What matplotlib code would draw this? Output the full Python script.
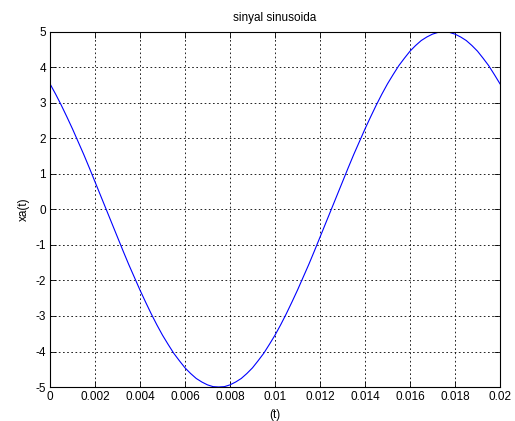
import numpy as np
import matplotlib.pyplot as plt

plt.rcParams['font.family'] = ['Liberation Sans', 'DejaVu Sans']
plt.rcParams['axes.unicode_minus'] = False

# samples, every 0.00025 s
t = np.linspace(0, 0.02, 81)
xa = [3.54, 3.25, 2.94, 2.61, 2.27, 1.91, 1.55, 1.17, 0.78, 0.39,
      0.0, -0.39, -0.78, -1.17, -1.55, -1.91, -2.27, -2.61, -2.94, -3.25,
      -3.54, -3.80, -4.05, -4.26, -4.46, -4.62, -4.76, -4.86, -4.94, -4.99,
      -5.0, -4.99, -4.94, -4.86, -4.76, -4.62, -4.46, -4.26, -4.05, -3.80,
      -3.54, -3.25, -2.94, -2.61, -2.27, -1.91, -1.55, -1.17, -0.78, -0.39,
      0.0, 0.39, 0.78, 1.17, 1.55, 1.91, 2.27, 2.61, 2.94, 3.25,
      3.54, 3.80, 4.05, 4.26, 4.46, 4.62, 4.76, 4.86, 4.94, 4.99,
      5.0, 4.99, 4.94, 4.86, 4.76, 4.62, 4.46, 4.26, 4.05, 3.80, 3.54]

xticks = [0, 0.002, 0.004, 0.006, 0.008, 0.01, 0.012, 0.014, 0.016, 0.018, 0.02]
xticklabels = ['0', '0.002', '0.004', '0.006', '0.008', '0.01', '0.012',
               '0.014', '0.016', '0.018', '0.02']
yticks = list(range(-5, 6))

fig = plt.figure(figsize=(5.15, 4.21), dpi=100)
ax = fig.add_axes([50/515, 1 - 387/421, 450/515, 355/421])

ax.plot(t, xa, color='#0000ff', linewidth=0.8)

ax.set_xlim(0, 0.02)
ax.set_ylim(-5, 5)
ax.set_xticks(xticks)
ax.set_xticklabels(xticklabels)
ax.set_yticks(yticks)
ax.grid(True, color='black', linestyle=(0, (2, 3)), linewidth=0.6)
ax.tick_params(direction='in', top=True, right=True, labelsize=8.5,
               length=4, width=0.6, pad=3)
for s in ax.spines.values():
    s.set_linewidth(0.8)

ax.set_title('sinyal sinusoida', fontsize=8.5, pad=8)
ax.set_xlabel('(t)', fontsize=8.5, labelpad=4)
ax.set_ylabel('xa(t)', fontsize=8.5, labelpad=4)

fig.savefig('out.png', dpi=100)
